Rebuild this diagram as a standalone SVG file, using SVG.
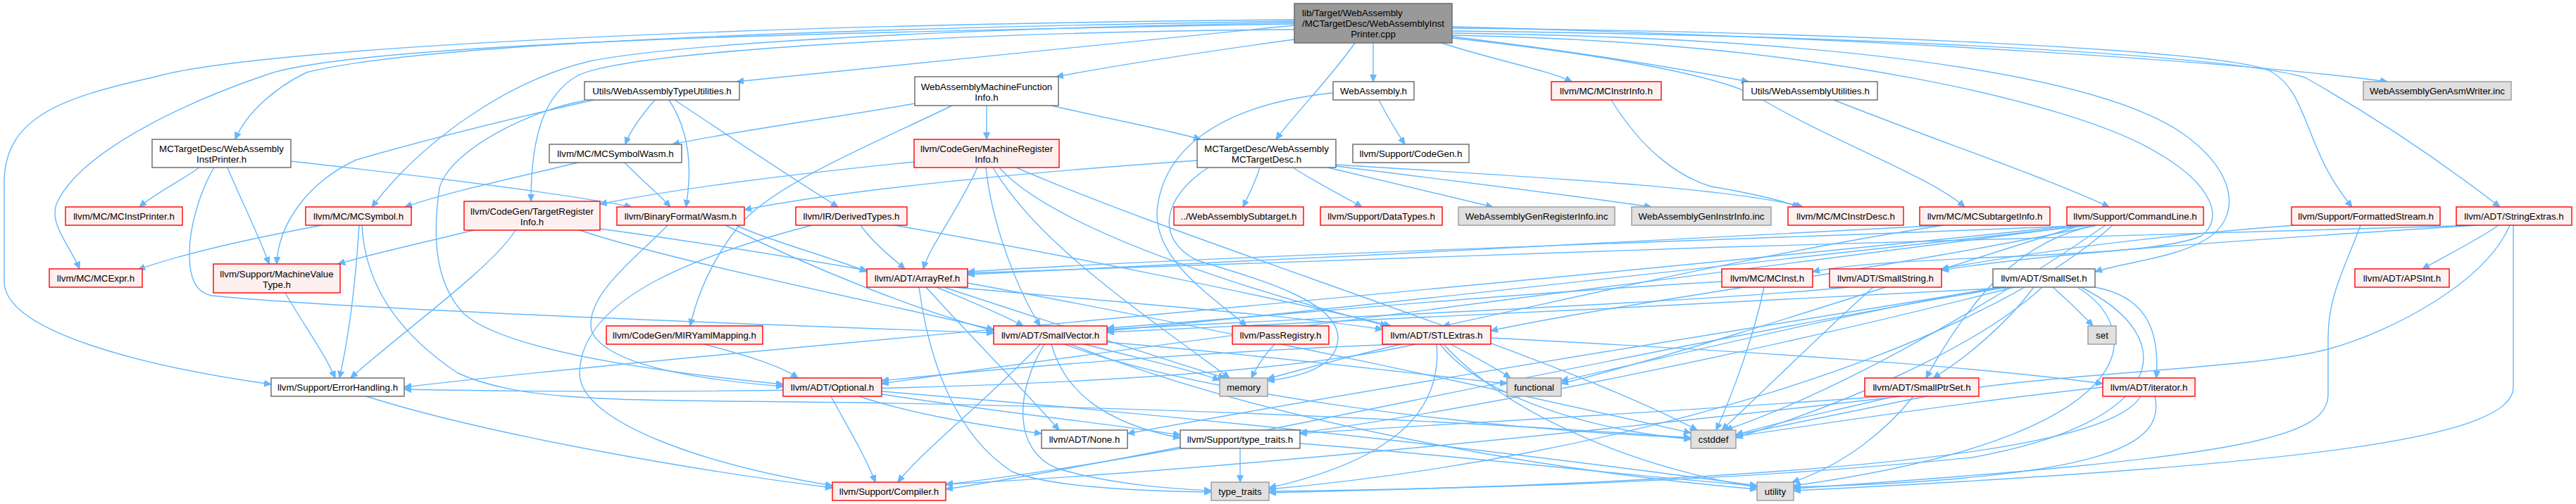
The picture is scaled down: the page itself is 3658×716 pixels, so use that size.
<svg xmlns="http://www.w3.org/2000/svg" width="3658" height="716" viewBox="0 0 3658 716">
<style>
text{font-family:"Liberation Sans",Arial,sans-serif;font-size:13.33px;fill:#000;text-anchor:middle}
.r{fill:#fff0f0;stroke:#ff0000;stroke-width:1.4}
.g{fill:#e0e0e0;stroke:#999999;stroke-width:1.4}
.w{fill:#ffffff;stroke:#666666;stroke-width:1.4}
.root{fill:#999999;stroke:#666666;stroke-width:1.4}
#edges path{fill:none;stroke:#63b8ff;stroke-width:1.4;marker-end:url(#a)}
</style>
<defs>
<marker id="a" markerWidth="11" markerHeight="10" refX="10" refY="4.5" orient="auto" markerUnits="userSpaceOnUse">
<path d="M0,0L10,4.5L0,9z" fill="#63b8ff" stroke="#63b8ff" stroke-width="1"/>
</marker>
</defs>
<rect width="3658" height="716" fill="#ffffff"/>
<g id="edges">
<path d="M1838,36 C1600,60 1300,90 1046,116"/>
<path d="M1838,56 C1700,75 1600,90 1500,109"/>
<path d="M1950,61 L1950,116"/>
<path d="M1924,61 C1890,110 1840,160 1812,198"/>
<path d="M2047,61 C2120,85 2200,100 2232,116"/>
<path d="M2062,52 C2250,75 2400,100 2483,116"/>
<path d="M2062,38 C2700,55 3200,90 3390,116"/>
<path d="M1838,30 C1200,40 600,60 435,103 C390,125 350,160 334,198"/>
<path d="M1838,32 C1500,38 1000,55 837,87 C720,115 600,200 528,294"/>
<path d="M1838,34 C1200,45 500,60 376,107 C250,150 110,220 80,290 C70,320 100,350 113,382"/>
<path d="M1838,28 C1000,35 350,70 217,110 C80,140 6,170 6,260 L6,400 C6,470 200,520 385,546"/>
<path d="M1838,42 C1400,45 900,70 821,107 C770,135 754,200 754,286"/>
<path d="M2062,54 C2300,80 2450,110 2500,140 C2600,200 2740,250 2790,294"/>
<path d="M2062,40 C2600,45 3150,70 3222,100 C3280,130 3270,210 3340,294"/>
<path d="M2062,44 C2600,50 3150,75 3273,110 C3380,170 3480,240 3550,294"/>
<path d="M2062,47 C2700,55 3000,120 3100,190 C3170,240 3185,300 3140,335 C3100,365 3020,372 2975,386"/>
<path d="M2062,50 C2600,60 2950,150 3060,215 C3140,260 3160,310 3126,335 C3050,370 2700,360 2574,386"/>
<path d="M283,238 C260,255 220,275 198,294"/>
<path d="M304,238 C285,270 269,320 269,360 C269,400 280,415 300,420 C500,440 1100,462 1411,473"/>
<path d="M323,238 C345,290 370,340 382,375"/>
<path d="M413,229 C600,250 800,275 897,294"/>
<path d="M930,142 C910,165 895,185 888,205"/>
<path d="M950,142 C975,180 985,230 974,294"/>
<path d="M958,142 C1030,190 1120,250 1190,294"/>
<path d="M843,142 C720,170 600,200 506,227 C435,260 395,320 393,375"/>
<path d="M830,143 C760,155 640,210 624,267 C615,330 615,400 659,446 C720,500 950,530 1112,546"/>
<path d="M887,231 C910,255 935,275 952,294"/>
<path d="M821,231 C720,255 640,272 575,294"/>
<path d="M1493,150 C1580,170 1660,185 1705,198"/>
<path d="M1401,150 L1401,198"/>
<path d="M1352,150 C1250,200 1100,260 1050,320 C1010,370 990,420 980,463"/>
<path d="M1299,147 C1200,165 1050,185 955,205"/>
<path d="M1789,238 C1782,260 1772,280 1765,294"/>
<path d="M1836,238 C1870,260 1910,280 1934,294"/>
<path d="M1885,238 C1980,260 2080,285 2120,294"/>
<path d="M1897,236 C2050,255 2250,280 2345,294"/>
<path d="M1897,234 C2150,250 2450,265 2560,294"/>
<path d="M1700,228 C1450,245 1200,270 1057,298"/>
<path d="M1716,238 C1650,280 1640,340 1700,370 C1800,400 1900,430 1900,480 C1900,520 1850,535 1800,541"/>
<path d="M1893,132 C1720,150 1650,220 1643,300 C1640,370 1720,420 1770,463"/>
<path d="M1298,230 C1100,250 950,270 852,290"/>
<path d="M1388,238 C1360,300 1320,350 1311,382"/>
<path d="M1400,238 C1410,330 1450,420 1477,463"/>
<path d="M1410,238 C1470,340 1600,430 1746,537"/>
<path d="M1419,238 C1500,330 1800,420 1970,463"/>
<path d="M1443,238 C1700,350 2200,500 2410,611"/>
<path d="M1958,142 C1970,165 1985,190 1995,205"/>
<path d="M2288,142 C2330,210 2380,250 2430,265 C2490,275 2530,285 2555,294"/>
<path d="M2604,142 C2750,200 2900,250 2995,294"/>
<path d="M457,320 C350,340 260,360 196,383"/>
<path d="M510,320 C505,400 495,480 482,537"/>
<path d="M514,320 C518,400 560,470 650,530 C750,575 900,567 1220,572 C1700,580 2100,600 2401,622"/>
<path d="M673,327 C600,345 530,360 480,375"/>
<path d="M732,327 C700,380 560,480 498,537"/>
<path d="M823,327 C950,370 1250,430 1411,468"/>
<path d="M852,325 C1000,345 1150,370 1231,384"/>
<path d="M948,320 C900,370 830,420 840,470 C860,520 1000,540 1112,549"/>
<path d="M1045,320 C1100,345 1180,365 1231,386"/>
<path d="M1030,320 C1150,380 1300,440 1411,470"/>
<path d="M1222,320 C1240,345 1265,365 1285,382"/>
<path d="M1153,320 C1000,360 825,420 823,530 C823,600 1000,660 1182,690"/>
<path d="M1270,320 C1500,360 1800,420 1975,463"/>
<path d="M2969,320 C2500,340 1800,360 1374,386"/>
<path d="M2969,320 C2600,360 1900,440 1572,470"/>
<path d="M2977,320 C2700,380 2300,430 2117,470"/>
<path d="M2977,320 C2870,340 2800,420 2735,537"/>
<path d="M2960,320 C2500,380 1700,480 1252,545"/>
<path d="M2950,320 C2000,420 1000,500 574,550"/>
<path d="M2990,320 C2800,450 2600,560 2450,611"/>
<path d="M2955,320 C2700,400 2400,500 2217,545"/>
<path d="M3000,320 C2800,500 2300,650 1802,695"/>
<path d="M2760,320 C2400,340 1800,370 1374,390"/>
<path d="M2760,320 C2500,360 2250,420 2049,463"/>
<path d="M3548,320 C3520,340 3470,365 3440,382"/>
<path d="M3518,320 C3200,340 2900,360 2757,384"/>
<path d="M3518,320 C3000,330 1900,370 1374,388"/>
<path d="M3564,320 C3530,400 3400,470 3306,496 C3200,525 2900,530 2750,560 C2600,590 2500,610 2465,618"/>
<path d="M3569,320 L3569,550 C3569,620 3300,660 2547,697"/>
<path d="M3258,320 C3000,340 2850,365 2757,382"/>
<path d="M3352,320 C3330,380 3306,420 3306,480 L3306,560 C3306,620 3200,650 2547,694"/>
<path d="M2445,400 C2100,420 1800,450 1572,466"/>
<path d="M2505,408 C2490,480 2460,560 2437,611"/>
<path d="M2625,408 C2400,430 1900,450 1572,468"/>
<path d="M2660,408 C2580,480 2500,560 2445,611"/>
<path d="M2844,408 C2400,480 1900,560 1601,616"/>
<path d="M2888,408 C2850,460 2790,510 2745,537"/>
<path d="M2868,408 C2500,430 1900,455 1572,472"/>
<path d="M2975,408 C3040,420 3068,460 3062,537"/>
<path d="M2915,408 C2940,430 2960,450 2972,463"/>
<path d="M2850,408 C2300,500 1700,640 1343,695"/>
<path d="M2860,408 C2500,500 2100,580 1846,615"/>
<path d="M2900,408 C2800,500 2600,580 2465,622"/>
<path d="M2838,408 C2600,450 2400,500 2217,541"/>
<path d="M2955,408 C3100,480 3080,600 2800,650 C2400,690 2000,695 1802,698"/>
<path d="M2950,408 C3050,470 3050,620 2547,690"/>
<path d="M1477,489 C1400,570 1310,640 1275,685"/>
<path d="M1483,489 C1440,560 1440,640 1500,665 C1580,690 1680,695 1720,697"/>
<path d="M1493,489 C1510,550 1560,600 1676,622"/>
<path d="M1540,489 C1620,510 1690,525 1732,540"/>
<path d="M1572,486 C1800,505 2000,530 2140,545"/>
<path d="M1512,489 C1700,560 2100,610 2401,622"/>
<path d="M1520,489 C1800,600 2200,670 2495,695"/>
<path d="M1315,408 C1380,480 1460,560 1504,611"/>
<path d="M1330,408 C1370,425 1420,445 1453,463"/>
<path d="M1355,408 C1600,430 1850,450 1963,468"/>
<path d="M1305,408 C1320,520 1360,620 1437,670 C1500,695 1650,698 1720,699"/>
<path d="M1340,408 C1500,460 1650,510 1740,537"/>
<path d="M1374,402 C1800,480 2200,570 2401,615"/>
<path d="M1985,489 C1700,500 1400,525 1252,541"/>
<path d="M2117,480 C2500,500 2800,520 2986,545"/>
<path d="M2060,489 C2090,505 2120,520 2145,537"/>
<path d="M2010,489 C1700,560 900,560 574,553"/>
<path d="M2045,489 C2100,560 2250,610 2401,624"/>
<path d="M1990,489 C1900,510 1850,525 1800,538"/>
<path d="M2040,489 C2050,600 1950,660 1802,693"/>
<path d="M2050,489 C2150,600 2350,670 2495,692"/>
<path d="M1220,563 C1300,590 1400,605 1479,616"/>
<path d="M1180,563 C1200,600 1230,650 1243,685"/>
<path d="M1252,560 C1450,590 1600,605 1676,618"/>
<path d="M1252,556 C1800,600 2200,650 2495,690"/>
<path d="M520,563 C700,620 1000,670 1182,693"/>
<path d="M405,416 C430,460 460,500 476,537"/>
<path d="M1000,489 C1060,505 1110,520 1133,537"/>
<path d="M1810,489 C1795,505 1785,520 1777,537"/>
<path d="M2700,563 C2200,620 1700,670 1343,688"/>
<path d="M2678,563 C2300,590 2000,605 1846,616"/>
<path d="M2690,563 C2600,585 2520,600 2465,618"/>
<path d="M2717,563 C2680,610 2620,660 2545,685"/>
<path d="M2986,550 C2800,570 2600,600 2465,620"/>
<path d="M3040,563 C3000,630 2700,680 1802,700"/>
<path d="M3060,563 C3075,630 3000,680 2547,692"/>
<path d="M1761,637 L1761,685"/>
<path d="M1846,630 C2100,650 2350,680 2495,690"/>
<path d="M1676,637 C1550,660 1420,680 1343,688"/>
</g>
<g id="n_root"><rect class="root" x="1838" y="5" width="224" height="56"/><text x="1849" y="23" style="text-anchor:start">lib/Target/WebAssembly</text><text x="1849" y="38" style="text-anchor:start">/MCTargetDesc/WebAssemblyInst</text><text x="1950" y="53">Printer.cpp</text></g>
<g id="n_tu"><rect class="w" x="830" y="116" width="220" height="26"/><text x="940" y="133.5">Utils/WebAssemblyTypeUtilities.h</text></g>
<g id="n_mfi"><rect class="w" x="1299" y="109" width="204" height="41"/><text x="1401" y="127.5">WebAssemblyMachineFunction</text><text x="1401" y="142.5">Info.h</text></g>
<g id="n_wa"><rect class="w" x="1893" y="116" width="115" height="26"/><text x="1950.5" y="133.5">WebAssembly.h</text></g>
<g id="n_mii"><rect class="r" x="2203" y="116" width="156" height="26"/><text x="2281" y="133.5">llvm/MC/MCInstrInfo.h</text></g>
<g id="n_wu"><rect class="w" x="2475" y="116" width="191" height="26"/><text x="2570.5" y="133.5">Utils/WebAssemblyUtilities.h</text></g>
<g id="n_gaw"><rect class="g" x="3356" y="116" width="210" height="26"/><text x="3461" y="133.5">WebAssemblyGenAsmWriter.inc</text></g>
<g id="n_ip"><rect class="w" x="216" y="198" width="197" height="40"/><text x="314.5" y="216">MCTargetDesc/WebAssembly</text><text x="314.5" y="231">InstPrinter.h</text></g>
<g id="n_sw"><rect class="w" x="780" y="205" width="188" height="26"/><text x="874" y="222.5">llvm/MC/MCSymbolWasm.h</text></g>
<g id="n_mri"><rect class="r" x="1298" y="198" width="206" height="40"/><text x="1401" y="216">llvm/CodeGen/MachineRegister</text><text x="1401" y="231">Info.h</text></g>
<g id="n_mtd"><rect class="w" x="1700" y="198" width="197" height="40"/><text x="1798.5" y="216">MCTargetDesc/WebAssembly</text><text x="1798.5" y="231">MCTargetDesc.h</text></g>
<g id="n_cg"><rect class="w" x="1921" y="205" width="165" height="26"/><text x="2003.5" y="222.5">llvm/Support/CodeGen.h</text></g>
<g id="n_mip"><rect class="r" x="93" y="294" width="166" height="26"/><text x="176" y="311.5">llvm/MC/MCInstPrinter.h</text></g>
<g id="n_ms"><rect class="r" x="434" y="294" width="150" height="26"/><text x="509" y="311.5">llvm/MC/MCSymbol.h</text></g>
<g id="n_tri"><rect class="r" x="659" y="286" width="193" height="41"/><text x="755.5" y="304.5">llvm/CodeGen/TargetRegister</text><text x="755.5" y="319.5">Info.h</text></g>
<g id="n_wasm"><rect class="r" x="876" y="294" width="181" height="26"/><text x="966.5" y="311.5">llvm/BinaryFormat/Wasm.h</text></g>
<g id="n_dt"><rect class="r" x="1130" y="294" width="158" height="26"/><text x="1209" y="311.5">llvm/IR/DerivedTypes.h</text></g>
<g id="n_sub"><rect class="r" x="1667" y="294" width="184" height="26"/><text x="1759" y="311.5">../WebAssemblySubtarget.h</text></g>
<g id="n_dty"><rect class="r" x="1875" y="294" width="173" height="26"/><text x="1961.5" y="311.5">llvm/Support/DataTypes.h</text></g>
<g id="n_gri"><rect class="g" x="2071" y="294" width="222" height="26"/><text x="2182" y="311.5">WebAssemblyGenRegisterInfo.inc</text></g>
<g id="n_gii"><rect class="g" x="2317" y="294" width="198" height="26"/><text x="2416" y="311.5">WebAssemblyGenInstrInfo.inc</text></g>
<g id="n_mid"><rect class="r" x="2539" y="294" width="164" height="26"/><text x="2621" y="311.5">llvm/MC/MCInstrDesc.h</text></g>
<g id="n_msi"><rect class="r" x="2726" y="294" width="185" height="26"/><text x="2818.5" y="311.5">llvm/MC/MCSubtargetInfo.h</text></g>
<g id="n_cl"><rect class="r" x="2935" y="294" width="194" height="26"/><text x="3032" y="311.5">llvm/Support/CommandLine.h</text></g>
<g id="n_fs"><rect class="r" x="3254" y="294" width="211" height="26"/><text x="3359.5" y="311.5">llvm/Support/FormattedStream.h</text></g>
<g id="n_se"><rect class="r" x="3488" y="294" width="164" height="26"/><text x="3570" y="311.5">llvm/ADT/StringExtras.h</text></g>
<g id="n_me"><rect class="r" x="70" y="382" width="132" height="26"/><text x="136" y="399.5">llvm/MC/MCExpr.h</text></g>
<g id="n_mvt"><rect class="r" x="303" y="375" width="180" height="41"/><text x="393" y="393.5">llvm/Support/MachineValue</text><text x="393" y="408.5">Type.h</text></g>
<g id="n_ar"><rect class="r" x="1231" y="382" width="143" height="26"/><text x="1302.5" y="399.5">llvm/ADT/ArrayRef.h</text></g>
<g id="n_mi"><rect class="r" x="2445" y="382" width="129" height="26"/><text x="2509.5" y="399.5">llvm/MC/MCInst.h</text></g>
<g id="n_ss"><rect class="r" x="2598" y="382" width="159" height="26"/><text x="2677.5" y="399.5">llvm/ADT/SmallString.h</text></g>
<g id="n_sset"><rect class="w" x="2830" y="382" width="145" height="26"/><text x="2902.5" y="399.5">llvm/ADT/SmallSet.h</text></g>
<g id="n_aps"><rect class="r" x="3344" y="382" width="134" height="26"/><text x="3411" y="399.5">llvm/ADT/APSInt.h</text></g>
<g id="n_mir"><rect class="r" x="861" y="463" width="222" height="26"/><text x="972" y="480.5">llvm/CodeGen/MIRYamlMapping.h</text></g>
<g id="n_sv"><rect class="r" x="1411" y="463" width="161" height="26"/><text x="1491.5" y="480.5">llvm/ADT/SmallVector.h</text></g>
<g id="n_pr"><rect class="r" x="1750" y="463" width="137" height="26"/><text x="1818.5" y="480.5">llvm/PassRegistry.h</text></g>
<g id="n_stl"><rect class="r" x="1963" y="463" width="154" height="26"/><text x="2040" y="480.5">llvm/ADT/STLExtras.h</text></g>
<g id="n_set"><rect class="g" x="2965" y="463" width="40" height="26"/><text x="2985" y="480.5">set</text></g>
<g id="n_eh"><rect class="w" x="385" y="537" width="189" height="26"/><text x="479.5" y="554.5">llvm/Support/ErrorHandling.h</text></g>
<g id="n_opt"><rect class="r" x="1112" y="537" width="140" height="26"/><text x="1182" y="554.5">llvm/ADT/Optional.h</text></g>
<g id="n_mem"><rect class="g" x="1732" y="537" width="68" height="26"/><text x="1766" y="554.5">memory</text></g>
<g id="n_fun"><rect class="g" x="2140" y="537" width="77" height="26"/><text x="2178.5" y="554.5">functional</text></g>
<g id="n_sps"><rect class="r" x="2648" y="537" width="162" height="26"/><text x="2729" y="554.5">llvm/ADT/SmallPtrSet.h</text></g>
<g id="n_it"><rect class="r" x="2986" y="537" width="131" height="26"/><text x="3051.5" y="554.5">llvm/ADT/iterator.h</text></g>
<g id="n_none"><rect class="w" x="1479" y="611" width="122" height="26"/><text x="1540" y="628.5">llvm/ADT/None.h</text></g>
<g id="n_ltt"><rect class="w" x="1676" y="611" width="170" height="26"/><text x="1761" y="628.5">llvm/Support/type_traits.h</text></g>
<g id="n_cst"><rect class="g" x="2401" y="611" width="64" height="26"/><text x="2433" y="628.5">cstddef</text></g>
<g id="n_comp"><rect class="r" x="1182" y="685" width="161" height="26"/><text x="1262.5" y="702.5">llvm/Support/Compiler.h</text></g>
<g id="n_tt"><rect class="g" x="1720" y="685" width="82" height="26"/><text x="1761" y="702.5">type_traits</text></g>
<g id="n_ut"><rect class="g" x="2495" y="685" width="52" height="26"/><text x="2521" y="702.5">utility</text></g>
</svg>
